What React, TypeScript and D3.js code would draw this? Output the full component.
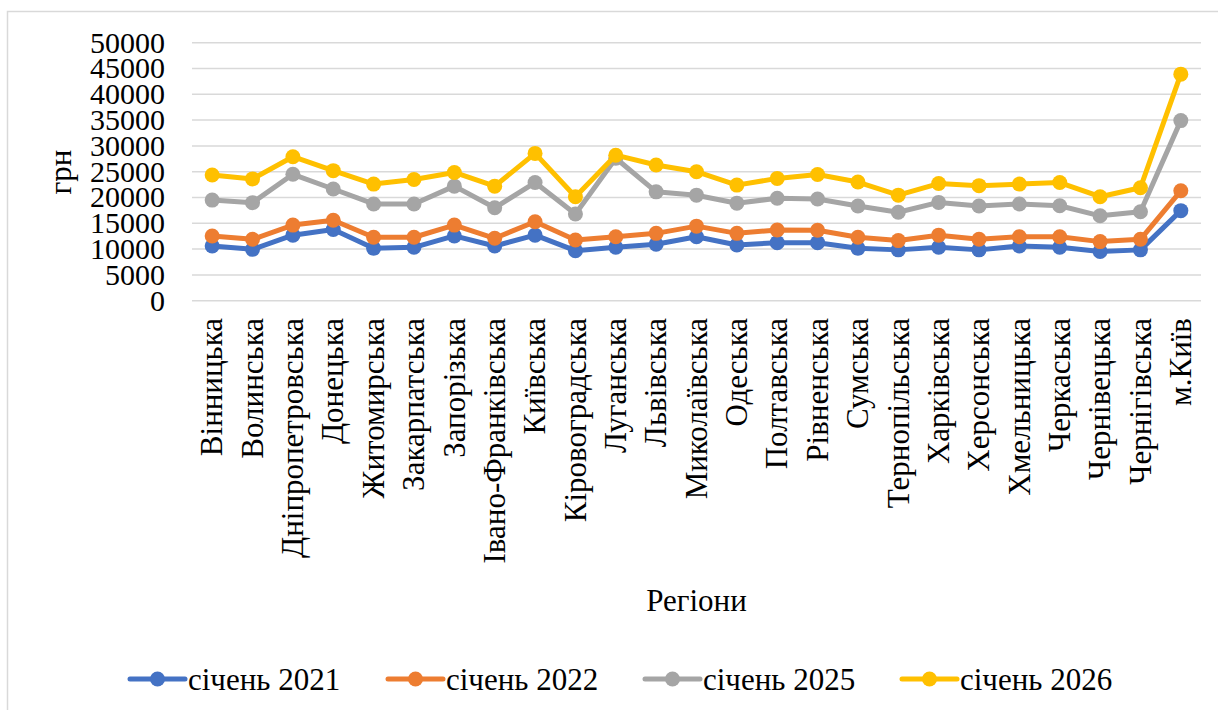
import React from "react";
import * as d3 from "d3";

const regions = [
  "Вінницька", "Волинська", "Дніпропетровська", "Донецька", "Житомирська",
  "Закарпатська", "Запорізька", "Івано-Франківська", "Київська", "Кіровоградська",
  "Луганська", "Львівська", "Миколаївська", "Одеська", "Полтавська",
  "Рівненська", "Сумська", "Тернопільська", "Харківська", "Херсонська",
  "Хмельницька", "Черкаська", "Чернівецька", "Чернігівська", "м.Київ",
];

const jan2021 = [10600, 9950, 12700, 13800, 10150, 10350, 12550, 10600, 12700, 9700,
  10350, 10950, 12400, 10800, 11250, 11250, 10150, 9850, 10350, 9850,
  10600, 10350, 9550, 9850, 17450];
const jan2022 = [12550, 11900, 14650, 15600, 12300, 12300, 14650, 12100, 15300, 11750,
  12400, 13050, 14450, 13050, 13700, 13650, 12300, 11650, 12700, 11900,
  12400, 12400, 11450, 11900, 21300];
const jan2025 = [19500, 19000, 24500, 21650, 18750, 18750, 22200, 18000, 22900, 16800,
  27600, 21100, 20450, 18900, 19850, 19700, 18350, 17150, 19050, 18350,
  18750, 18400, 16450, 17250, 34900];
const jan2026 = [24350, 23600, 27900, 25200, 22600, 23500, 24850, 22200, 28550, 20150,
  28200, 26300, 25000, 22400, 23700, 24450, 23000, 20450, 22700, 22300,
  22600, 22900, 20150, 21900, 43900];

const yTicks = [0, 5000, 10000, 15000, 20000, 25000, 30000, 35000, 40000, 45000, 50000];

const seriesNames = ["січень 2021", "січень 2022", "січень 2025", "січень 2026"];
const seriesColors = ["#4472C4", "#ED7D31", "#A5A5A5", "#FFC000"];
const seriesData = [jan2021, jan2022, jan2025, jan2026];

const FONT = "Liberation Serif";

export default function App() {
  const left = 192;
  const right = 1201;
  const top = 42.7;
  const bottom = 300.7;

  const x = d3.scaleBand<string>().domain(regions).range([left, right]);
  const y = d3.scaleLinear().domain([0, 50000]).range([bottom, top]);
  const cx = (r: string) => (x(r) as number) + x.bandwidth() / 2;

  const line = d3
    .line<number>()
    .x((_, i) => cx(regions[i]))
    .y((v) => y(v));

  const legendY = 679;
  const legendStarts = [130, 388, 645, 902];

  return (
    <svg
      width={1218}
      height={710}
      style={{ position: "absolute", left: 0, top: 0, background: "#fff" }}
      fontFamily={FONT}
    >
      <rect x={0} y={0} width={1218} height={710} fill="#fff" />
      <rect x={7.5} y={11.5} width={1300} height={800} fill="none" stroke="#D9D9D9" strokeWidth={1.5} />

      {yTicks.map((t) => (
        <g key={t}>
          <line x1={left} x2={right} y1={y(t)} y2={y(t)} stroke="#D9D9D9" strokeWidth={1.5} />
          <text x={165} y={y(t)} dy="0.33em" textAnchor="end" fontSize={30} fill="#000" fontFamily={FONT}>
            {t}
          </text>
        </g>
      ))}

      <text
        transform={`translate(63,172) rotate(-90)`}
        textAnchor="middle"
        dy="0.25em"
        fontSize={31}
        fill="#000"
        fontFamily={FONT}
      >
        грн
      </text>

      {regions.map((r) => (
        <text
          key={r}
          transform={`translate(${cx(r)},318) rotate(-90)`}
          textAnchor="end"
          dy="0.33em"
          fontSize={31}
          fill="#000"
          fontFamily={FONT}
        >
          {r}
        </text>
      ))}

      <text x={(left + right) / 2} y={611} textAnchor="middle" fontSize={31} fill="#000" fontFamily={FONT}>
        Регіони
      </text>

      {seriesData.map((s, si) => (
        <g key={si}>
          <path d={line(s) || ""} fill="none" stroke={seriesColors[si]} strokeWidth={5} strokeLinejoin="round" strokeLinecap="round" />
          {s.map((v, i) => (
            <circle key={i} cx={cx(regions[i])} cy={y(v)} r={7.5} fill={seriesColors[si]} />
          ))}
        </g>
      ))}

      {seriesNames.map((n, i) => (
        <g key={n}>
          <line
            x1={legendStarts[i]}
            x2={legendStarts[i] + 55}
            y1={legendY}
            y2={legendY}
            stroke={seriesColors[i]}
            strokeWidth={5}
            strokeLinecap="round"
          />
          <circle cx={legendStarts[i] + 27.5} cy={legendY} r={7.5} fill={seriesColors[i]} />
          <text x={legendStarts[i] + 58} y={legendY} dy="0.35em" fontSize={31} fill="#000" fontFamily={FONT}>
            {n}
          </text>
        </g>
      ))}
    </svg>
  );
}
